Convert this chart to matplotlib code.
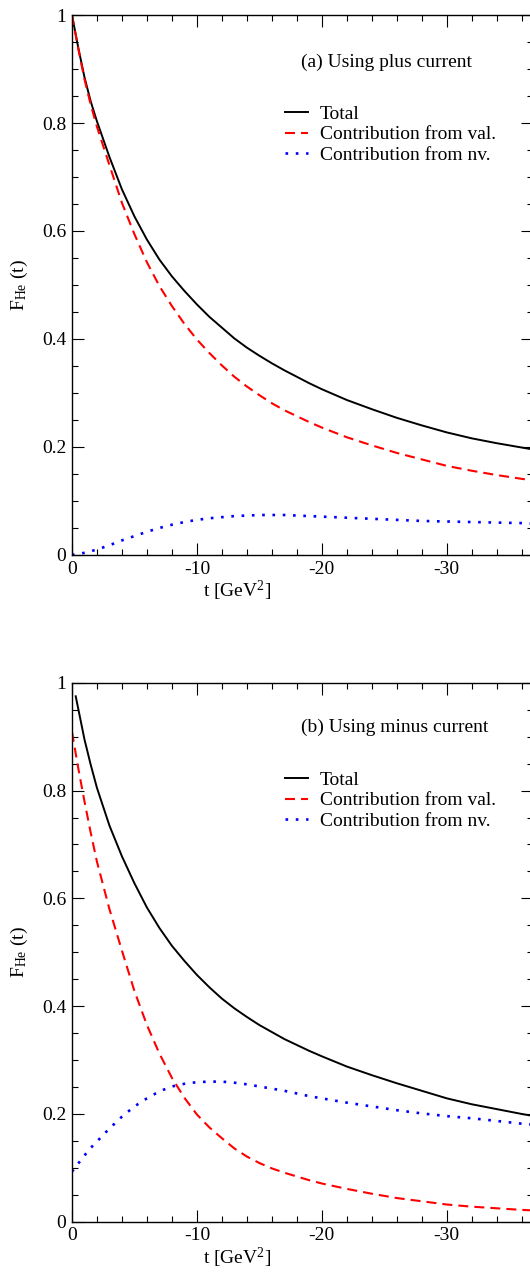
import matplotlib
matplotlib.use("Agg")
import matplotlib.pyplot as plt
from matplotlib.ticker import MultipleLocator

plt.rcParams['font.family'] = ['Liberation Serif', 'DejaVu Serif']
plt.rcParams['mathtext.fontset'] = 'custom'
plt.rcParams['mathtext.rm'] = 'Liberation Serif'
plt.rcParams['mathtext.it'] = 'Liberation Serif:italic'
plt.rcParams['axes.unicode_minus'] = False

# t values (GeV^2)
t = [0, -0.5, -1, -1.5, -2, -3, -4, -5, -6, -7, -8, -9, -10, -11, -12, -13, -14,
     -15, -16, -17, -18, -19, -20, -22, -24, -26, -28, -30, -32, -34, -36, -37]

# (a) plus current
total_a = [1.000, 0.940, 0.885, 0.840, 0.803, 0.737, 0.677, 0.627, 0.584, 0.547,
           0.516, 0.489, 0.464, 0.441, 0.421, 0.401, 0.384, 0.369, 0.355, 0.342,
           0.330, 0.318, 0.307, 0.287, 0.270, 0.254, 0.240, 0.227, 0.216, 0.207,
           0.199, 0.195]
val_a = [1.000, 0.938, 0.881, 0.834, 0.793, 0.722, 0.652, 0.594, 0.542, 0.498,
         0.461, 0.428, 0.399, 0.374, 0.351, 0.330, 0.312, 0.296, 0.281, 0.268,
         0.257, 0.246, 0.236, 0.218, 0.203, 0.189, 0.177, 0.165, 0.156, 0.148,
         0.141, 0.138]
nv_a = [0.000, 0.002, 0.004, 0.007, 0.010, 0.018, 0.027, 0.035, 0.043, 0.050,
        0.056, 0.061, 0.065, 0.068, 0.070, 0.072, 0.073, 0.074, 0.074, 0.074,
        0.073, 0.072, 0.071, 0.069, 0.067, 0.065, 0.063, 0.062, 0.061, 0.060,
        0.059, 0.058]

# (b) minus current
t_total_b = [-0.3, -1, -1.5, -2, -3, -4, -5, -6, -7, -8, -9, -10, -11, -12, -13,
             -14, -15, -16, -17, -18, -19, -20, -22, -24, -26, -28, -30, -32, -34,
             -36, -37]
total_b = [0.975, 0.895, 0.848, 0.805, 0.735, 0.678, 0.628, 0.583, 0.545, 0.512,
           0.484, 0.458, 0.435, 0.414, 0.396, 0.380, 0.365, 0.352, 0.339, 0.328,
           0.317, 0.307, 0.288, 0.272, 0.257, 0.243, 0.229, 0.218, 0.209, 0.200,
           0.196]
val_b = [0.909, 0.842, 0.780, 0.722, 0.668, 0.580, 0.503, 0.428, 0.365, 0.312,
         0.267, 0.230, 0.199, 0.175, 0.155, 0.136, 0.121, 0.109, 0.099, 0.091,
         0.084, 0.077, 0.071, 0.061, 0.052, 0.044, 0.038, 0.032, 0.028, 0.025,
         0.022, 0.021]
nv_b = [0.093, 0.108, 0.123, 0.137, 0.149, 0.173, 0.195, 0.214, 0.229, 0.242,
        0.251, 0.256, 0.259, 0.260, 0.260, 0.258, 0.255, 0.251, 0.247, 0.243,
        0.238, 0.233, 0.229, 0.221, 0.214, 0.207, 0.201, 0.196, 0.192, 0.187,
        0.182, 0.180]

FS = 14


def draw_panel(ax, t_tot, tot, val, nv, title, title_y, leg_y):
    ax.plot(t_tot, tot, color='black', lw=1.4, label='Total')
    ax.plot(t, val, color='#ff0000', lw=1.5, dashes=(4.8, 2.9),
            label='Contribution from val.')
    ax.plot(t, nv, color='#0000ff', lw=1.9, dashes=(1, 2.9),
            label='Contribution from nv.')

    ax.set_xlim(0, -36.9)
    ax.set_ylim(0, 1)
    ax.xaxis.set_major_locator(MultipleLocator(10))
    ax.xaxis.set_minor_locator(MultipleLocator(2))
    ax.yaxis.set_major_locator(MultipleLocator(0.2))
    ax.yaxis.set_minor_locator(MultipleLocator(0.05))
    ax.xaxis.set_major_formatter(plt.FuncFormatter(lambda v, p: '%d' % round(v)))
    ax.yaxis.set_major_formatter(plt.FuncFormatter(
        lambda v, p: '%d' % round(v) if abs(v - round(v)) < 1e-9 else '%.1f' % v))
    ax.tick_params(which='both', direction='in', top=True, right=True,
                   labelsize=FS, width=0.8)
    ax.tick_params(which='major', length=8.6, pad=4)
    ax.tick_params(which='minor', length=4.3)
    for s in ax.spines.values():
        s.set_linewidth(1.0)

    ax.set_xlabel(r't [GeV$^2$]', fontsize=FS)
    ax.xaxis.set_label_coords(0.358, -0.045)
    ax.set_ylabel(r'F$_{\rm He}$ (t)', fontsize=FS)
    ax.yaxis.set_label_coords(-0.092, 0.5)

    ax.text(0.497, title_y, title, transform=ax.transAxes, fontsize=FS,
            ha='left', va='center')
    ax.legend(loc='upper left', bbox_to_anchor=(0.462, leg_y), frameon=False,
              fontsize=FS, handlelength=1.2, handletextpad=0.6,
              labelspacing=0.15, borderpad=0, borderaxespad=0)


fig = plt.figure(figsize=(5.3, 12.72), dpi=100)
ax1 = fig.add_axes([0.1358, 0.5637, 0.8698, 0.4245])
ax2 = fig.add_axes([0.1358, 0.0395, 0.8698, 0.4237])

draw_panel(ax1, t, total_a, val_a, nv_a, '(a) Using plus current', 0.913, 0.833)
draw_panel(ax2, t_total_b, total_b, val_b, nv_b, '(b) Using minus current', 0.918, 0.836)

fig.savefig('out.png', dpi=100)
